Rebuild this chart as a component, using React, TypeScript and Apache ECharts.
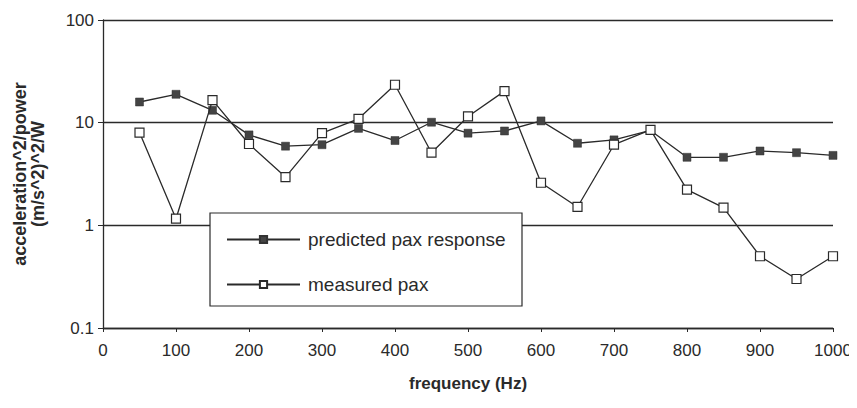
import React, { useEffect, useRef } from "react";
import * as echarts from "echarts";

const frequencies = [50, 100, 150, 200, 250, 300, 350, 400, 450, 500, 550, 600, 650, 700, 750, 800, 850, 900, 950, 1000];
const predicted = [15.9, 18.9, 13.2, 7.6, 5.9, 6.1, 8.8, 6.7, 10.1, 7.9, 8.3, 10.4, 6.3, 6.8, 8.4, 4.6, 4.6, 5.3, 5.1, 4.8];
const measured = [8.0, 1.16, 16.6, 6.2, 2.95, 7.9, 10.9, 23.4, 5.1, 11.5, 20.3, 2.6, 1.51, 6.1, 8.5, 2.23, 1.49, 0.5, 0.3, 0.5];
const seriesNames = ["predicted pax response", "measured pax"];
const xTitle = "frequency (Hz)";
const yTitle = "acceleration^2/power\n(m/s^2)^2/W";

export default function App() {
  const ref = useRef<HTMLDivElement>(null);
  useEffect(() => {
    const chart = echarts.init(ref.current!, null, { renderer: "svg" });
    const font = "Liberation Sans, Arial, sans-serif";
    const ink = "#2a2a2a";
    chart.setOption({
      animation: false,
      backgroundColor: "#ffffff",
      textStyle: { fontFamily: font },
      grid: { left: 103, right: 24, top: 20, bottom: 80 },
      xAxis: {
        type: "value",
        min: 0,
        max: 1000,
        interval: 100,
        name: xTitle,
        nameLocation: "middle",
        nameGap: 47,
        nameTextStyle: { fontSize: 17, fontWeight: "bold", color: ink, fontFamily: font },
        axisLine: { show: true, lineStyle: { color: ink, width: 1.3 } },
        axisTick: { show: true, inside: false, length: 4, lineStyle: { color: ink } },
        axisLabel: { fontSize: 17, color: ink, margin: 14, fontFamily: font, formatter: (v: number) => String(v) },
        splitLine: { show: false },
      },
      yAxis: {
        type: "log",
        logBase: 10,
        min: 0.1,
        max: 100,
        name: yTitle,
        nameLocation: "middle",
        nameGap: 56,
        nameRotate: 90,
        nameTextStyle: { fontSize: 18, fontWeight: "bold", color: ink, lineHeight: 18, fontFamily: font },
        axisLine: { show: true, lineStyle: { color: ink, width: 1.3 } },
        axisTick: { show: true, inside: false, length: 5, lineStyle: { color: ink } },
        axisLabel: { fontSize: 17, color: ink, margin: 9, fontFamily: font, formatter: (v: number) => String(v) },
        splitLine: { show: true, lineStyle: { color: ink, width: 1.3 } },
        minorTick: { show: false },
      },
      graphic: [
        {
          type: "rect",
          z: 5,
          shape: { x: 210, y: 213, width: 312, height: 93 },
          style: { fill: "#ffffff", stroke: ink, lineWidth: 1.2 },
        },
      ],
      legend: {
        z: 6,
        orient: "vertical",
        left: 226,
        top: 228,
        padding: 0,
        itemWidth: 73,
        itemHeight: 9,
        itemGap: 22,
        textStyle: { fontSize: 19, lineHeight: 20, color: ink, fontFamily: font, padding: [3, 0, 0, 3] },
        data: seriesNames,
      },
      series: [
        {
          name: seriesNames[0],
          type: "line",
          data: frequencies.map((f, i) => [f, predicted[i]]),
          symbol: "rect",
          symbolSize: 8,
          lineStyle: { color: ink, width: 1.3 },
          itemStyle: { color: "#444444", borderColor: "#333333", borderWidth: 0.5 },
          z: 2,
        },
        {
          name: seriesNames[1],
          type: "line",
          data: frequencies.map((f, i) => [f, measured[i]]),
          symbol: "rect",
          symbolSize: 9,
          lineStyle: { color: ink, width: 1.3 },
          itemStyle: { color: "#ffffff", borderColor: ink, borderWidth: 1.2 },
          z: 3,
        },
      ],
    });
    return () => chart.dispose();
  }, []);
  return <div ref={ref} style={{ width: 857, height: 408, margin: -8 }} />;
}
